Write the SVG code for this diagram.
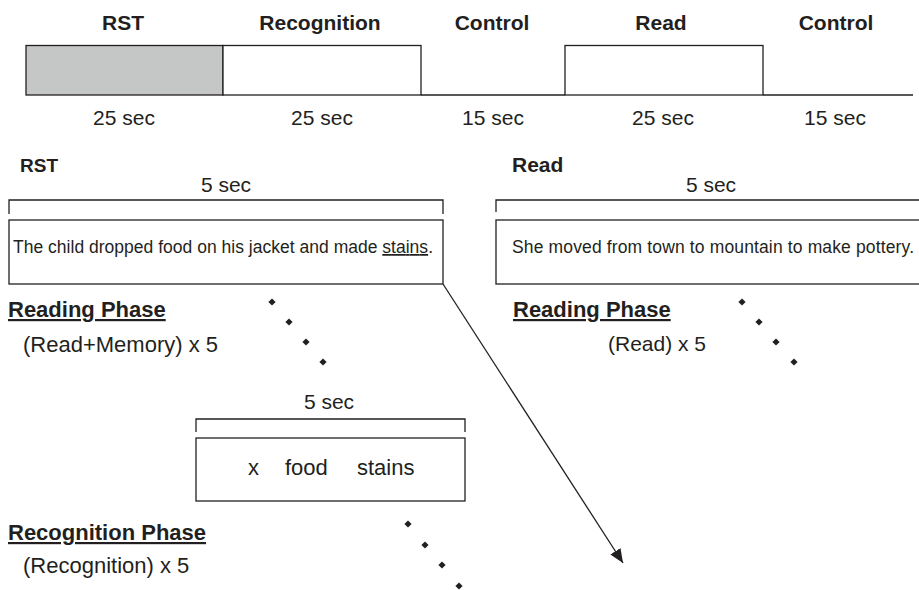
<svg xmlns="http://www.w3.org/2000/svg" width="919" height="590" viewBox="0 0 919 590">
<style>
text{font-family:"Liberation Sans",Arial,sans-serif;fill:#231f20}
.b{font-weight:bold;font-size:21px}
.p{font-weight:bold;font-size:22px}
.r{font-size:21px}
.q{font-size:22px}
.s{font-size:17.5px}
.m{text-anchor:middle}
.ln{fill:none;stroke:#231f20;stroke-width:1.3}
.u{text-decoration:underline}
</style>
<defs>
<path id="dot" d="M0,-3.6 L3.6,0 L0,3.6 L-3.6,0 Z" fill="#231f20"/>
<marker id="ah" markerUnits="userSpaceOnUse" markerWidth="16" markerHeight="14" refX="14" refY="6" orient="auto">
<path d="M0,0 L14,6 L0,12 Z" fill="#231f20"/>
</marker>
</defs>
<rect width="919" height="590" fill="#fff"/>

<g id="timeline">
<rect x="26" y="45.5" width="197" height="49.5" fill="#c5c6c6" stroke="#231f20" stroke-width="1.3"/>
<rect x="223" y="45.5" width="198" height="49.5" fill="#fff" stroke="#231f20" stroke-width="1.3"/>
<line x1="421" y1="95" x2="565" y2="95" class="ln"/>
<rect x="565" y="45.5" width="198" height="49.5" fill="#fff" stroke="#231f20" stroke-width="1.3"/>
<line x1="763" y1="95" x2="913" y2="95" class="ln"/>
<text class="b m" x="123" y="30">RST</text>
<text class="b m" x="320" y="30">Recognition</text>
<text class="b m" x="492" y="30">Control</text>
<text class="b m" x="661" y="30">Read</text>
<text class="b m" x="836" y="30">Control</text>
<text class="r m" x="124" y="125">25 sec</text>
<text class="r m" x="322" y="125">25 sec</text>
<text class="r m" x="493" y="125">15 sec</text>
<text class="r m" x="663" y="125">25 sec</text>
<text class="r m" x="835" y="125">15 sec</text>
</g>

<g id="rst-trial">
<text class="b" x="20" y="172" style="font-size:19px">RST</text>
<text class="r m" x="226" y="192">5 sec</text>
<path class="ln" d="M9,214 V200 H443 V214"/>
<rect x="9" y="220" width="434" height="64" fill="#fff" stroke="#231f20" stroke-width="1.3"/>
<text class="s" x="13" y="253" textLength="420">The child dropped food on his jacket and made <tspan class="u">stains</tspan>.</text>
</g>

<g id="read-trial">
<text class="b" x="512" y="172">Read</text>
<text class="r m" x="711" y="192">5 sec</text>
<path class="ln" d="M496,212 V200 H925"/>
<rect x="496" y="220" width="430" height="64" fill="#fff" stroke="#231f20" stroke-width="1.3"/>
<text class="s" x="512" y="253" textLength="402">She moved from town to mountain to make pottery.</text>
</g>

<g id="rst-reading-phase">
<text class="p u" x="8" y="317">Reading Phase</text>
<text class="q" x="23" y="352">(Read+Memory) x 5</text>
</g>

<g id="read-reading-phase">
<text class="p u" x="513" y="317">Reading Phase</text>
<text class="r" x="608" y="351">(Read) x 5</text>
</g>

<g id="recognition-trial">
<text class="r m" x="329" y="409">5 sec</text>
<path class="ln" d="M196,432 V419 H465 V432"/>
<rect x="196" y="438" width="269" height="63" fill="#fff" stroke="#231f20" stroke-width="1.3"/>
<text class="q" x="248" y="475">x</text>
<text class="q" x="285" y="475">food</text>
<text class="q" x="357" y="475">stains</text>
</g>

<g id="recognition-phase">
<text class="p u" x="8" y="540">Recognition Phase</text>
<text class="q" x="23" y="573">(Recognition) x 5</text>
</g>

<g id="ellipses">
<use href="#dot" x="272" y="302"/>
<use href="#dot" x="289" y="322"/>
<use href="#dot" x="306" y="342"/>
<use href="#dot" x="323" y="362"/>
<use href="#dot" x="742" y="302"/>
<use href="#dot" x="759" y="322"/>
<use href="#dot" x="776" y="342"/>
<use href="#dot" x="794" y="362"/>
<use href="#dot" x="408" y="524"/>
<use href="#dot" x="425" y="545"/>
<use href="#dot" x="442" y="565"/>
<use href="#dot" x="459" y="586"/>
</g>

<g id="connectors">
<line x1="443" y1="284" x2="623" y2="563" stroke="#231f20" stroke-width="1.3" marker-end="url(#ah)"/>
</g>
</svg>
